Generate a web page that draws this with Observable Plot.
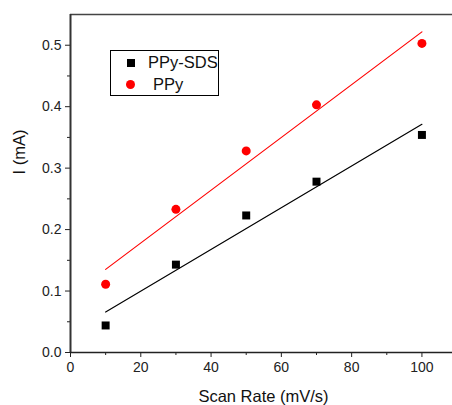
<!DOCTYPE html>
<html>
<head>
<meta charset="utf-8">
<script src="https://cdn.jsdelivr.net/npm/d3@7"></script>
<script src="https://cdn.jsdelivr.net/npm/@observablehq/plot@0.6"></script>
<style>
  html, body { margin: 0; padding: 0; background: #fff; }
  #wrap { position: relative; width: 452px; height: 405px; font-family: "Liberation Sans", Arial, sans-serif; }
  #legend { position: absolute; left: 110px; top: 50px; width: 107px; height: 44px; border: 1px solid #000; background: #fff; font-size: 16.5px; color: #111; }
  .row { position: absolute; left: 0; display: flex; align-items: center; }
  .sq { width: 8px; height: 8px; background: #000; margin-left: 16px; }
  .ci { width: 9px; height: 9px; border-radius: 50%; background: #ff0000; margin-left: 15px; }
</style>
</head>
<body>
<div id="wrap"></div>
<script>
const scanRate = [10, 30, 50, 70, 100];
const ppySDS = [0.044, 0.143, 0.223, 0.278, 0.354];
const ppy = [0.111, 0.233, 0.328, 0.403, 0.503];
const seriesNames = ["PPy-SDS", "PPy"];
const xTicks = [0, 20, 40, 60, 80, 100];
const xMinor = [10, 30, 50, 70, 90];
const yTicks = [0, 0.1, 0.2, 0.3, 0.4, 0.5];
const yMinor = [0.05, 0.15, 0.25, 0.35, 0.45];

const sds = scanRate.map((x, i) => ({x, y: ppySDS[i]}));
const pp = scanRate.map((x, i) => ({x, y: ppy[i]}));

const chart = Plot.plot({
  width: 452,
  height: 405,
  marginLeft: 70,
  marginRight: 0,
  marginTop: 14,
  marginBottom: 53,
  style: {fontFamily: "Liberation Sans, Arial, sans-serif", fontSize: "14px", color: "#222", background: "#fff"},
  x: {domain: [0, 108.7]},
  y: {domain: [0, 0.55]},
  marks: [
    Plot.axisX({ticks: xTicks, tickSize: 5, tickPadding: 5, fontSize: 14, label: null, stroke: "#222"}),
    Plot.axisX({ticks: xMinor, tickSize: 3, text: null, label: null, stroke: "#222"}),
    Plot.axisY({ticks: yTicks, tickSize: 5, tickPadding: 4, fontSize: 14, tickFormat: d3.format(".1f"), label: null, stroke: "#222"}),
    Plot.axisY({ticks: yMinor, tickSize: 3, text: null, label: null, stroke: "#222"}),
    Plot.ruleY([0.55], {stroke: "#444", strokeWidth: 1.5}),
    Plot.ruleX([0], {stroke: "#333", strokeWidth: 2}),
    Plot.ruleY([0], {stroke: "#222", strokeWidth: 1.5}),
    Plot.linearRegressionY(sds, {x: "x", y: "y", stroke: "#000", strokeWidth: 1.2, ci: 0}),
    Plot.linearRegressionY(pp, {x: "x", y: "y", stroke: "#ff0000", strokeWidth: 1.2, ci: 0}),
    Plot.dot(sds, {x: "x", y: "y", symbol: "square", r: 4.5, fill: "#000", stroke: "none"}),
    Plot.dot(pp, {x: "x", y: "y", symbol: "circle", r: 4.5, fill: "#ff0000", stroke: "none"}),
    Plot.text(["Scan Rate (mV/s)"], {frameAnchor: "bottom", lineAnchor: "middle", dx: 2, dy: 44.5, fontSize: 16.5, fill: "#111"}),
    Plot.text(["I (mA)"], {frameAnchor: "left", lineAnchor: "middle", dx: -50.5, dy: -9, rotate: -90, fontSize: 16.5, fill: "#111"})
  ]
});
const wrap = document.getElementById("wrap");
wrap.appendChild(chart);

const legend = document.createElement("div");
legend.id = "legend";
legend.innerHTML = `
  <div class="row" style="top:2px"><div class="sq"></div><span style="margin-left:13px">${seriesNames[0]}</span></div>
  <div class="row" style="top:24px"><div class="ci"></div><span style="margin-left:18px">${seriesNames[1]}</span></div>`;
wrap.appendChild(legend);
</script>
</body>
</html>
